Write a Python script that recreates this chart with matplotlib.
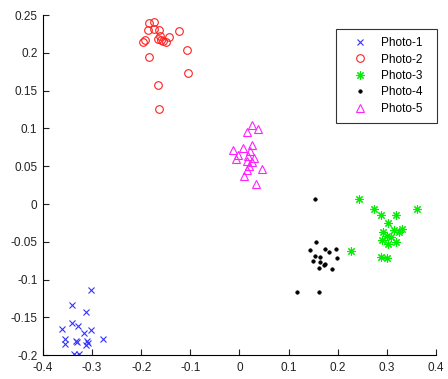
import matplotlib
matplotlib.use("Agg")
import matplotlib.pyplot as plt

plt.rcParams['font.family'] = ['Liberation Sans', 'DejaVu Sans']

photo1_x = [-0.302, -0.340, -0.312, -0.340, -0.328, -0.361, -0.303, -0.316, -0.356, -0.356,
            -0.333, -0.331, -0.311, -0.309, -0.312, -0.278, -0.336, -0.326, -0.333]
photo1_y = [-0.114, -0.134, -0.143, -0.158, -0.161, -0.165, -0.167, -0.171, -0.179, -0.185,
            -0.181, -0.183, -0.181, -0.184, -0.186, -0.179, -0.199, -0.199, -0.201]

photo2_x = [-0.185, -0.175, -0.187, -0.173, -0.163, -0.197, -0.192, -0.166, -0.160, -0.156,
            -0.149, -0.162, -0.144, -0.123, -0.107, -0.184, -0.104, -0.165, -0.163]
photo2_y = [0.239, 0.241, 0.230, 0.232, 0.231, 0.215, 0.217, 0.218, 0.217, 0.216,
            0.214, 0.223, 0.221, 0.229, 0.204, 0.194, 0.173, 0.158, 0.126]

photo3_x = [0.243, 0.228, 0.273, 0.288, 0.318, 0.361, 0.302, 0.314, 0.292, 0.300,
            0.324, 0.290, 0.318, 0.302, 0.288, 0.300, 0.331, 0.308]
photo3_y = [0.007, -0.062, -0.007, -0.014, -0.014, -0.007, -0.025, -0.034, -0.037, -0.042,
            -0.037, -0.047, -0.050, -0.053, -0.070, -0.071, -0.033, -0.043]

photo4_x = [0.154, 0.156, 0.144, 0.175, 0.182, 0.197, 0.154, 0.164, 0.150, 0.163,
            0.175, 0.173, 0.198, 0.161, 0.188, 0.118, 0.161]
photo4_y = [0.006, -0.050, -0.061, -0.060, -0.064, -0.059, -0.069, -0.070, -0.076, -0.077,
            -0.079, -0.081, -0.071, -0.085, -0.086, -0.117, -0.117]

photo5_x = [0.026, 0.037, 0.016, -0.014, 0.007, 0.026, 0.022, -0.002, 0.017, 0.029,
            -0.008, 0.016, 0.025, 0.020, 0.045, 0.016, 0.009, 0.034]
photo5_y = [0.104, 0.099, 0.095, 0.071, 0.074, 0.078, 0.070, 0.065, 0.063, 0.061,
            0.059, 0.057, 0.055, 0.050, 0.047, 0.045, 0.037, 0.026]

labels = ['Photo-1', 'Photo-2', 'Photo-3', 'Photo-4', 'Photo-5']
xticks = [-0.4, -0.3, -0.2, -0.1, 0, 0.1, 0.2, 0.3, 0.4]
yticks = [-0.2, -0.15, -0.1, -0.05, 0, 0.05, 0.1, 0.15, 0.2, 0.25]

fig = plt.figure(figsize=(4.48, 3.79), dpi=100)
ax = fig.add_axes([0.096, 0.063, 0.877, 0.897])

ax.plot(photo1_x, photo1_y, linestyle='none', marker='x', color='#3333ff', ms=5, mew=0.8, label=labels[0])
ax.plot(photo2_x, photo2_y, linestyle='none', marker='o', mfc='none', mec='#ff2020', ms=5.5, mew=0.8, label=labels[1])
ax.plot(photo3_x, photo3_y, linestyle='none', marker=(8, 2, 0), color='#00ee00', ms=6, mew=0.8, label=labels[2])
ax.plot(photo4_x, photo4_y, linestyle='none', marker='o', color='black', ms=2.5, mew=0.5, label=labels[3])
ax.plot(photo5_x, photo5_y, linestyle='none', marker='^', mfc='none', mec='#ff22ff', ms=6, mew=0.8, label=labels[4])

ax.set_xlim(-0.4, 0.4)
ax.set_ylim(-0.2, 0.25)
ax.set_xticks(xticks)
ax.set_yticks(yticks)
ax.set_xticklabels(['%g' % v for v in xticks])
ax.set_yticklabels(['%g' % v for v in yticks])
ax.tick_params(direction='in', length=4, width=0.8, labelsize=8.5, colors='#222222')
ax.tick_params(axis='x', pad=5)
ax.tick_params(axis='y', pad=4)
ax.spines['top'].set_visible(False)
ax.spines['right'].set_visible(False)
for s in ['left', 'bottom']:
    ax.spines[s].set_linewidth(0.8)
    ax.spines[s].set_color('black')

leg = ax.legend(loc='upper left', bbox_to_anchor=(0.7455, 0.68, 0.257, 0.28), mode='expand',
                fontsize=8.5, frameon=True, fancybox=False, shadow=False, edgecolor='black',
                borderpad=0.7, handlelength=2.6, handletextpad=0.5, labelspacing=0.38,
                borderaxespad=0)
leg.get_frame().set_linewidth(0.8)

fig.savefig('out.png', dpi=100)
